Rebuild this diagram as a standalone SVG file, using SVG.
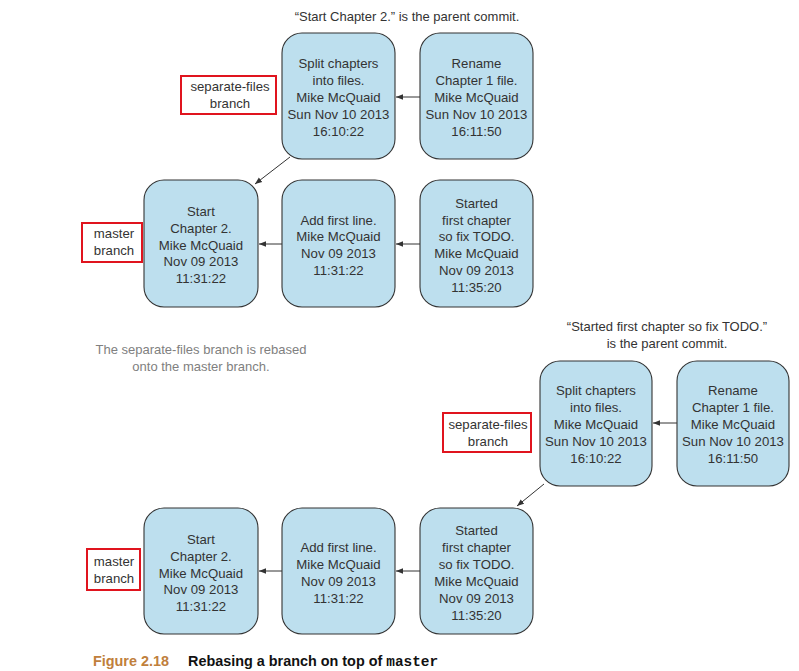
<svg xmlns="http://www.w3.org/2000/svg" width="799" height="671" viewBox="0 0 799 671">
<defs>
<style>
.node rect{fill:#bddfee;stroke:#333;stroke-width:1.1}
.node text,.lbl text{font-family:"Liberation Sans",Arial,sans-serif;font-size:13.2px;fill:#333;text-anchor:middle}
.lbl rect{fill:#fff;stroke:#e0141e;stroke-width:2}
.note{font-family:"Liberation Sans",Arial,sans-serif;font-size:13px;fill:#333;text-anchor:middle}
.gray{fill:#808080}
.conn line{stroke:#333;stroke-width:1;marker-end:url(#ah)}
.cap{font-family:"Liberation Sans",Arial,sans-serif;font-size:14.4px;font-weight:bold}
</style>
<marker id="ah" viewBox="0 0 10 10" refX="10" refY="5" markerWidth="7" markerHeight="7" markerUnits="userSpaceOnUse" orient="auto">
<path d="M0,1 L10,5 L0,9 z" fill="#333"/>
</marker>
</defs>
<rect width="799" height="671" fill="#fff"/>

<text class="note" x="407" y="21">“Start Chapter 2.” is the parent commit.</text>

<g id="top-split" class="node">
<rect x="282" y="33" width="113" height="126" rx="20"/>
<text x="338.5" y="68">Split chapters</text>
<text x="338.5" y="85">into files.</text>
<text x="338.5" y="102">Mike McQuaid</text>
<text x="338.5" y="119">Sun Nov 10 2013</text>
<text x="338.5" y="136">16:10:22</text>
</g>
<g id="top-rename" class="node">
<rect x="420" y="33" width="113" height="126" rx="20"/>
<text x="476.5" y="68">Rename</text>
<text x="476.5" y="85">Chapter 1 file.</text>
<text x="476.5" y="102">Mike McQuaid</text>
<text x="476.5" y="119">Sun Nov 10 2013</text>
<text x="476.5" y="136">16:11:50</text>
</g>
<g id="top-sep-label" class="lbl">
<rect x="181" y="76" width="95" height="38"/>
<text x="230" y="91">separate-files</text>
<text x="230" y="108">branch</text>
</g>

<g id="r2-start" class="node">
<rect x="144" y="180" width="114" height="127" rx="20"/>
<text x="201" y="216">Start</text>
<text x="201" y="233">Chapter 2.</text>
<text x="201" y="250">Mike McQuaid</text>
<text x="201" y="266">Nov 09 2013</text>
<text x="201" y="283">11:31:22</text>
</g>
<g id="r2-add" class="node">
<rect x="282" y="180" width="113" height="127" rx="20"/>
<text x="338.5" y="225">Add first line.</text>
<text x="338.5" y="241">Mike McQuaid</text>
<text x="338.5" y="258">Nov 09 2013</text>
<text x="338.5" y="275">11:31:22</text>
</g>
<g id="r2-started" class="node">
<rect x="420" y="180" width="113" height="127" rx="20"/>
<text x="476.5" y="208">Started</text>
<text x="476.5" y="225">first chapter</text>
<text x="476.5" y="241">so fix TODO.</text>
<text x="476.5" y="258">Mike McQuaid</text>
<text x="476.5" y="275">Nov 09 2013</text>
<text x="476.5" y="292">11:35:20</text>
</g>
<g id="r2-master-label" class="lbl">
<rect x="82" y="223" width="60" height="39"/>
<text x="114" y="238">master</text>
<text x="114" y="255">branch</text>
</g>

<text class="note gray" x="201" y="354">The separate-files branch is rebased</text>
<text class="note gray" x="201" y="371">onto the master branch.</text>

<text class="note" x="667" y="331">“Started first chapter so fix TODO.”</text>
<text class="note" x="667" y="348">is the parent commit.</text>

<g id="b-split" class="node">
<rect x="540" y="361" width="112" height="125" rx="20"/>
<text x="596" y="395">Split chapters</text>
<text x="596" y="412">into files.</text>
<text x="596" y="429">Mike McQuaid</text>
<text x="596" y="446">Sun Nov 10 2013</text>
<text x="596" y="463">16:10:22</text>
</g>
<g id="b-rename" class="node">
<rect x="677" y="361" width="112" height="125" rx="20"/>
<text x="733" y="395">Rename</text>
<text x="733" y="412">Chapter 1 file.</text>
<text x="733" y="429">Mike McQuaid</text>
<text x="733" y="446">Sun Nov 10 2013</text>
<text x="733" y="463">16:11:50</text>
</g>
<g id="b-sep-label" class="lbl">
<rect x="443" y="413" width="88" height="39"/>
<text x="488" y="429">separate-files</text>
<text x="488" y="446">branch</text>
</g>

<g id="b-start" class="node">
<rect x="144" y="508" width="114" height="126" rx="20"/>
<text x="201" y="544">Start</text>
<text x="201" y="561">Chapter 2.</text>
<text x="201" y="578">Mike McQuaid</text>
<text x="201" y="594">Nov 09 2013</text>
<text x="201" y="611">11:31:22</text>
</g>
<g id="b-add" class="node">
<rect x="282" y="508" width="113" height="126" rx="20"/>
<text x="338.5" y="552">Add first line.</text>
<text x="338.5" y="569">Mike McQuaid</text>
<text x="338.5" y="586">Nov 09 2013</text>
<text x="338.5" y="603">11:31:22</text>
</g>
<g id="b-started" class="node">
<rect x="420" y="508" width="113" height="126" rx="20"/>
<text x="476.5" y="535">Started</text>
<text x="476.5" y="552">first chapter</text>
<text x="476.5" y="569">so fix TODO.</text>
<text x="476.5" y="586">Mike McQuaid</text>
<text x="476.5" y="603">Nov 09 2013</text>
<text x="476.5" y="620">11:35:20</text>
</g>
<g id="b-master-label" class="lbl">
<rect x="87" y="549" width="53" height="41"/>
<text x="114" y="566">master</text>
<text x="114" y="583">branch</text>
</g>

<g id="connectors" class="conn">
<line x1="420" y1="97" x2="396" y2="97"/>
<line x1="290" y1="157" x2="255" y2="184"/>
<line x1="282" y1="244" x2="259" y2="244"/>
<line x1="420" y1="244" x2="396" y2="244"/>
<line x1="677" y1="423" x2="653" y2="423"/>
<line x1="544" y1="484" x2="517" y2="506"/>
<line x1="282" y1="571" x2="259" y2="571"/>
<line x1="420" y1="571" x2="396" y2="571"/>
</g>

<text x="93" y="666" class="cap" fill="#c0803c">Figure 2.18</text>
<text x="188" y="666" class="cap" fill="#111">Rebasing a branch on top of <tspan font-family="'Liberation Mono',monospace">master</tspan></text>
</svg>
